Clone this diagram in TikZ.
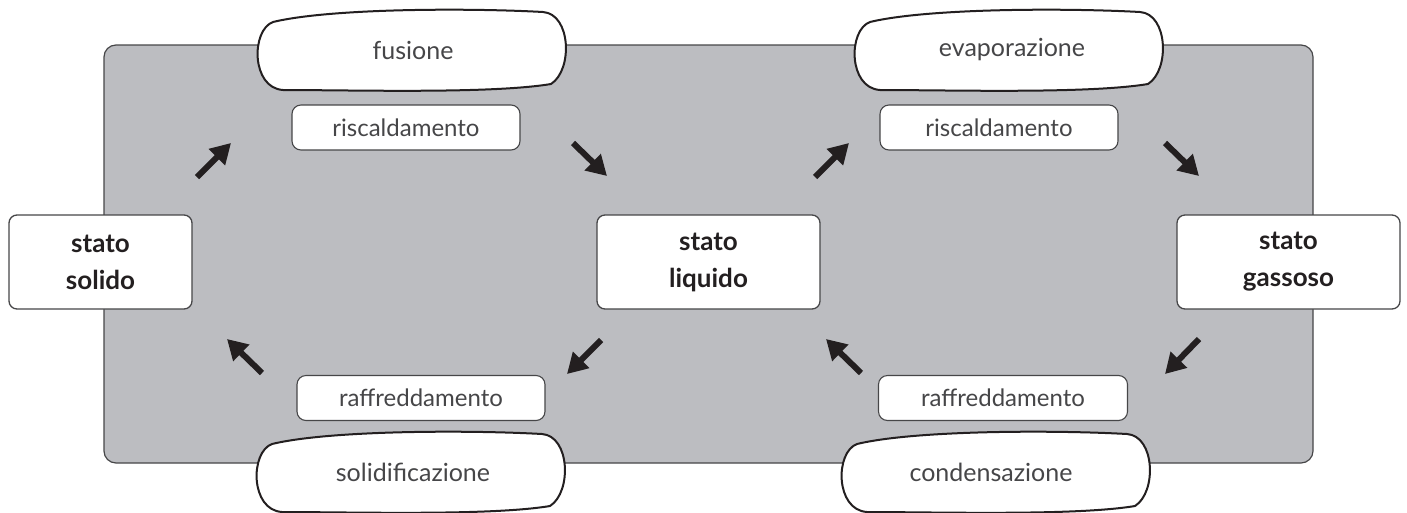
\documentclass[tikz,border=0pt]{standalone}
\usepackage{fontspec}
\setmainfont{Lato}
\usepackage{xcolor}
\usetikzlibrary{shapes,arrows.meta,positioning,calc}

\definecolor{sfondo}{RGB}{188,189,193}
\definecolor{bordo}{RGB}{70,70,72}
\definecolor{inchiostro}{RGB}{35,31,32}

\tikzset{
  stato/.style={rectangle, rounded corners=8pt, draw=bordo, line width=1.3pt, fill=white,
    align=center, font=\fontsize{26}{37}\selectfont\bfseries, text=inchiostro},
  azione/.style={rectangle, rounded corners=9pt, draw=bordo, line width=1.1pt, fill=white,
    minimum height=45pt, font=\fontsize{24}{28}\selectfont, text=bordo},
  nome/.style={font=\fontsize{25}{29}\selectfont, text=bordo},
  freccia/.style={inchiostro, line width=6pt, -{Triangle[length=20pt,width=22pt]}},
  bolla/.pic={
    \draw[line width=2pt, fill=white, draw=inchiostro]
      (-138,-28) .. controls (-80,-42) and (60,-42) .. (132,-38)
      .. controls (160,-36) and (162,20) .. (140,34)
      .. controls (80,44) and (-60,40) .. (-128,40)
      .. controls (-160,38) and (-160,-20) .. cycle;
  }
}

\begin{document}
\begin{tikzpicture}[x=1pt, y=-1pt]
\useasboundingbox (0,0) rectangle (1407,512);

% fondo grigio
\draw[fill=sfondo, draw=bordo, line width=1.2pt, rounded corners=12pt] (104,45) rectangle (1313,463);

% passaggi di stato
\pic at (411,50) {bolla};
\node[nome] (fusione) at (413,50) {fusione};
\pic at (1008,50) {bolla};
\node[nome] (evaporazione) at (1012,50) {evaporazione};
\pic at (410,472) {bolla};
\node[nome] (solidificazione) at (413,472) {solidificazione};
\pic at (995,472) {bolla};
\node[nome] (condensazione) at (991,472) {condensazione};

% stati
\node[stato, minimum width=183pt, minimum height=94pt] (solido) at (100.5,262) {stato\\solido};
\node[stato, minimum width=223pt, minimum height=94pt] (liquido) at (708.5,262) {stato\\liquido};
\node[stato, minimum width=223pt, minimum height=94pt] (gassoso) at (1288.5,262) {stato\\gassoso};

% scambi di calore
\node[azione, minimum width=228pt] (risc1) at (406,127.5) {riscaldamento};
\node[azione, minimum width=238pt] (risc2) at (999,127.5) {riscaldamento};
\node[azione, minimum width=248pt] (raff1) at (421,398) {raffreddamento};
\node[azione, minimum width=249pt] (raff2) at (1003,398) {raffreddamento};

% frecce
\coordinate (a1) at (197,177); \coordinate (b1) at (231,143);
\coordinate (a2) at (573,143); \coordinate (b2) at (607,176);
\coordinate (a3) at (815,177); \coordinate (b3) at (849,143);
\coordinate (a4) at (1165,143); \coordinate (b4) at (1199,176);
\coordinate (a5) at (262,373); \coordinate (b5) at (227,339);
\coordinate (a6) at (601,340); \coordinate (b6) at (567,374);
\coordinate (a7) at (861,373); \coordinate (b7) at (826,339);
\coordinate (a8) at (1199,339); \coordinate (b8) at (1165,374);
\foreach \i in {1,...,8}
  \draw[freccia] (a\i) -- (b\i);
\end{tikzpicture}
\end{document}
